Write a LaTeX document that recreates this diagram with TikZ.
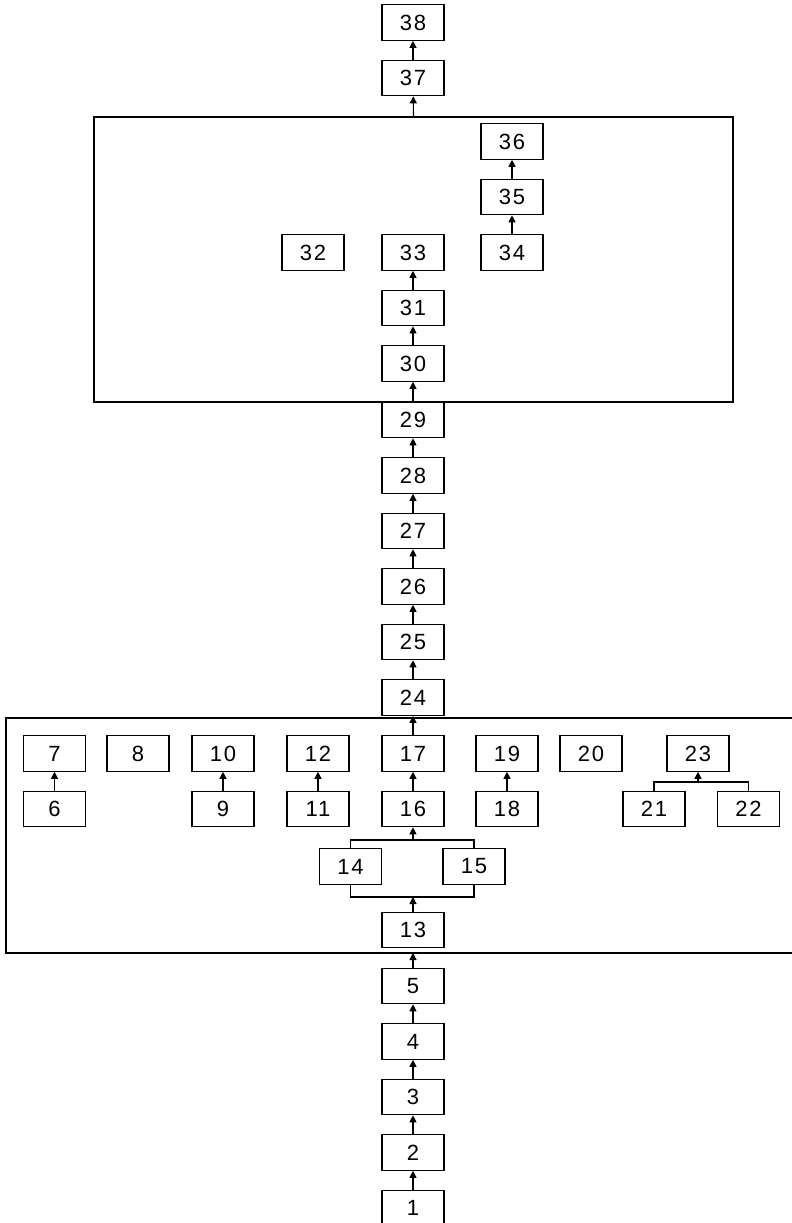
\documentclass[tikz,border=0pt]{standalone}
\usepackage{fontspec}
\setmainfont{Liberation Sans}[LetterSpace=8]
\usetikzlibrary{arrows.meta}

\begin{document}
\begin{tikzpicture}[x=1pt,y=1pt,main/.style = {draw, line width=1.1pt, minimum width=62pt, minimum height=35.5pt, inner sep=0pt, font=\fontsize{22}{26}\selectfont},arr/.style = {-{Triangle[length=7pt,width=7pt]}, line width=1.1pt},node distance={55.5pt}]
    \useasboundingbox (0,0) rectangle (792,-1223);

    % frames
    \node[draw, line width=1.1pt, minimum width=639pt, minimum height=285pt, inner sep=0pt] (up) at (413.5,-259.5) {};
    \draw[line width=1.1pt] (792,-718) -- (6,-718) -- (6,-953) -- (792,-953);
    \coordinate (lowbot) at (413,-953);

    % bottom column
    \node[main] (1) at (413,-1208) {1};
    \node[main] (2) [above of=1] {2};
    \node[main] (3) [above of=2] {3};
    \node[main] (4) [above of=3] {4};
    \node[main] (5) [above of=4] {5};

    % lower frame
    \node[main] (13) at (413,-930) {13};
    \node[main] (14) at (350.5,-866.5) {14};
    \node[main] (15) at (474,-866.5) {15};
    \node[main] (16) at (413,-809) {16};
    \node[main] (17) [above of=16] {17};
    \node[main] (6) at (54.5,-809) {6};
    \node[main] (7) [above of=6] {7};
    \node[main] (8) at (138,-753.5) {8};
    \node[main] (9) at (223,-809) {9};
    \node[main] (10) [above of=9] {10};
    \node[main] (11) at (318,-809) {11};
    \node[main] (12) [above of=11] {12};
    \node[main] (18) at (507,-809) {18};
    \node[main] (19) [above of=18] {19};
    \node[main] (20) at (591,-753.5) {20};
    \node[main] (21) at (654,-809) {21};
    \node[main] (22) at (748.5,-809) {22};
    \node[main] (23) at (698,-753.5) {23};
    \coordinate (bar14) at (413,-897);
    \coordinate (bar16) at (413,-840);
    \coordinate (bar23) at (698,-782);

    % middle column
    \node[main] (24) at (413,-697.5) {24};
    \node[main] (25) [above of=24] {25};
    \node[main] (26) [above of=25] {26};
    \node[main] (27) [above of=26] {27};
    \node[main] (28) [above of=27] {28};
    \node[main] (29) [above of=28] {29};

    % upper frame
    \node[main] (30) at (413,-363.5) {30};
    \node[main] (31) [above of=30] {31};
    \node[main] (33) [above of=31] {33};
    \node[main] (32) at (313,-252.5) {32};
    \node[main] (34) at (512,-252.5) {34};
    \node[main] (35) [above of=34] {35};
    \node[main] (36) [above of=35] {36};

    % top
    \node[main] (38) at (413,-22.5) {38};
    \node[main] (37) [below of=38] {37};

    \draw[arr] (1) -- (2);
    \draw[arr] (2) -- (3);
    \draw[arr] (3) -- (4);
    \draw[arr] (4) -- (5);
    \draw[arr] (5) -- (lowbot);
    \draw[arr] (13) -- (bar14);
    \draw[line width=1.1pt] (14.south) |- (bar14) -| (15.south);
    \draw[line width=1.1pt] (14.north) |- (bar16) -| (15.north);
    \draw[arr] (bar16) -- (16);
    \draw[arr] (16) -- (17);
    \draw[arr] (6) -- (7);
    \draw[arr] (9) -- (10);
    \draw[arr] (11) -- (12);
    \draw[arr] (18) -- (19);
    \draw[line width=1.1pt] (21.north) |- (bar23) -| (22.north);
    \draw[arr] (bar23) -- (23);
    \draw[arr] (17) -- (24);
    \draw[arr] (24) -- (25);
    \draw[arr] (25) -- (26);
    \draw[arr] (26) -- (27);
    \draw[arr] (27) -- (28);
    \draw[arr] (28) -- (29);
    \draw[arr] (29) -- (30);
    \draw[arr] (30) -- (31);
    \draw[arr] (31) -- (33);
    \draw[arr] (34) -- (35);
    \draw[arr] (35) -- (36);
    \draw[arr] (up.north) -- (37);
    \draw[arr] (37) -- (38);
\end{tikzpicture}
\end{document}
